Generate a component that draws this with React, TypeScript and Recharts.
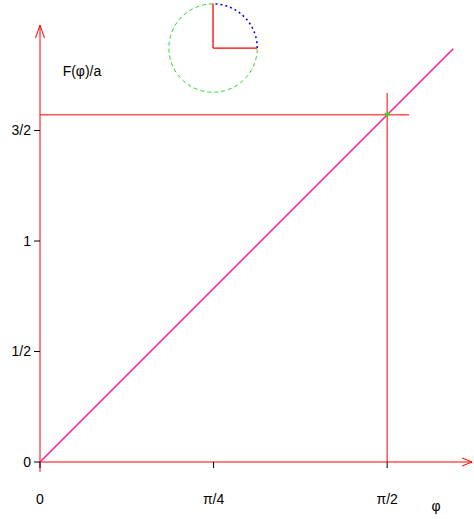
import {
  ComposedChart,
  Line,
  Scatter,
  XAxis,
  YAxis,
  ReferenceLine,
  ReferenceDot,
} from 'recharts';

const HALF_PI = Math.PI / 2;
const FONT = '"Liberation Sans", Arial, sans-serif';

// axis extents (data units)
const X_MAX = 1.9638;
const Y_MAX = 2.0905;

const xTicks = [0, Math.PI / 4, HALF_PI];
const xTickLabels = ['0', 'π/4', 'π/2'];
const yTicks = [0, 0.5, 1, 1.5];
const yTickLabels = ['0', '1/2', '1', '3/2'];

// F(φ)/a = φ
const phiValues = [0, 1.87];
const arcLengthValues = [0, 1.87];

// guide lines through (π/2, π/2)
const guideEnd = 1.67;
const marker = [{ x: HALF_PI, y: HALF_PI }];

// little circle sketch in the corner
const insetCenter = { x: 0.783, y: 1.873 };
const insetRadius = 0.2;
const greenArc = [90, 360];
const blueArc = [0, 90];

const arcLength = phiValues.map((x, i) => ({ x, y: arcLengthValues[i] }));

const arcPoints = ([from, to]: number[]) => {
  const pts: { x: number; y: number }[] = [];
  for (let a = from; a <= to; a += 3) {
    const t = (a * Math.PI) / 180;
    pts.push({
      x: insetCenter.x + insetRadius * Math.cos(t),
      y: insetCenter.y + insetRadius * Math.sin(t),
    });
  }
  return pts;
};

const arrowShape = (len: number, half: number) => (p: any) => {
  const { x1, y1, x2, y2 } = p;
  const dx = x2 - x1;
  const dy = y2 - y1;
  const d = Math.hypot(dx, dy) || 1;
  const ux = dx / d;
  const uy = dy / d;
  const bx = x2 - ux * len;
  const by = y2 - uy * len;
  const pts = `${bx - uy * half},${by + ux * half} ${x2},${y2} ${bx + uy * half},${by - ux * half}`;
  return (
    <g>
      <line x1={x1} y1={y1} x2={x2} y2={y2} stroke="#ff0000" strokeWidth={1} />
      <polyline points={pts} fill="none" stroke="#ff0000" strokeWidth={1} />
    </g>
  );
};

const downTriangle = (p: any) => {
  const { cx, cy } = p;
  return (
    <polygon
      points={`${cx - 3},${cy - 2} ${cx + 3},${cy - 2} ${cx},${cy + 3}`}
      fill="#22dd22"
    />
  );
};

const textStyle = { fill: '#000', fontSize: 14, fontFamily: FONT };

export default function App() {
  return (
    <div style={{ position: 'absolute', left: 0, top: 0 }}>
      <ComposedChart
        width={474}
        height={519}
        margin={{ top: 0, right: 0, bottom: 0, left: 0 }}
      >
        <XAxis
          type="number"
          dataKey="x"
          domain={[0, X_MAX]}
          ticks={xTicks}
          interval={0}
          tickFormatter={(v: number) => xTickLabels[xTicks.indexOf(v)] ?? ''}
          axisLine={false}
          tickLine={{ stroke: '#000' }}
          tick={textStyle}
          tickMargin={26}
          height={57}
        />
        <YAxis
          type="number"
          dataKey="y"
          domain={[0, Y_MAX]}
          ticks={yTicks}
          interval={0}
          tickFormatter={(v: number) => yTickLabels[yTicks.indexOf(v)] ?? ''}
          axisLine={false}
          tickLine={{ stroke: '#000' }}
          tick={textStyle}
          tickMargin={3}
          width={40}
        />

        {/* guides */}
        <ReferenceLine
          segment={[
            { x: 0, y: HALF_PI },
            { x: guideEnd, y: HALF_PI },
          ]}
          stroke="#ff0000"
          ifOverflow="visible"
        />
        <ReferenceLine
          segment={[
            { x: HALF_PI, y: 0 },
            { x: HALF_PI, y: guideEnd },
          ]}
          stroke="#ff0000"
          ifOverflow="visible"
        />

        {/* axes with arrow heads */}
        <ReferenceLine
          segment={[
            { x: 0, y: 0 },
            { x: 1.955, y: 0 },
          ]}
          ifOverflow="visible"
          shape={arrowShape(10, 4)}
        />
        <ReferenceLine
          segment={[
            { x: 0, y: -0.045 },
            { x: 0, y: 1.977 },
          ]}
          ifOverflow="visible"
          shape={arrowShape(13, 4.5)}
        />

        <Line
          data={arcLength}
          dataKey="y"
          type="linear"
          stroke="#ff1493"
          strokeWidth={1.4}
          dot={false}
          activeDot={false}
          isAnimationActive={false}
        />

        {/* inset circle */}
        <Line
          data={arcPoints(greenArc)}
          dataKey="y"
          type="linear"
          stroke="#22dd22"
          strokeWidth={1}
          strokeDasharray="4 3"
          dot={false}
          isAnimationActive={false}
        />
        <Line
          data={arcPoints(blueArc)}
          dataKey="y"
          type="linear"
          stroke="#0000ee"
          strokeWidth={1.5}
          strokeDasharray="2 3"
          dot={false}
          isAnimationActive={false}
        />
        <ReferenceLine
          segment={[
            { x: insetCenter.x, y: insetCenter.y },
            { x: insetCenter.x, y: insetCenter.y + insetRadius },
          ]}
          stroke="#ff0000"
          strokeWidth={1.3}
          ifOverflow="visible"
        />
        <ReferenceLine
          segment={[
            { x: insetCenter.x, y: insetCenter.y },
            { x: insetCenter.x + insetRadius, y: insetCenter.y },
          ]}
          stroke="#ff0000"
          strokeWidth={1.3}
          ifOverflow="visible"
        />

        <Scatter
          data={marker}
          shape={downTriangle}
          isAnimationActive={false}
        />

        {/* axis titles */}
        <ReferenceDot
          x={0.19}
          y={1.769}
          r={0}
          fill="none"
          stroke="none"
          ifOverflow="visible"
          label={{ value: 'F(φ)/a', position: 'center', ...textStyle }}
        />
        <ReferenceDot
          x={1.792}
          y={-0.199}
          r={0}
          fill="none"
          stroke="none"
          ifOverflow="visible"
          label={{ value: 'φ', position: 'center', ...textStyle }}
        />
      </ComposedChart>
    </div>
  );
}
